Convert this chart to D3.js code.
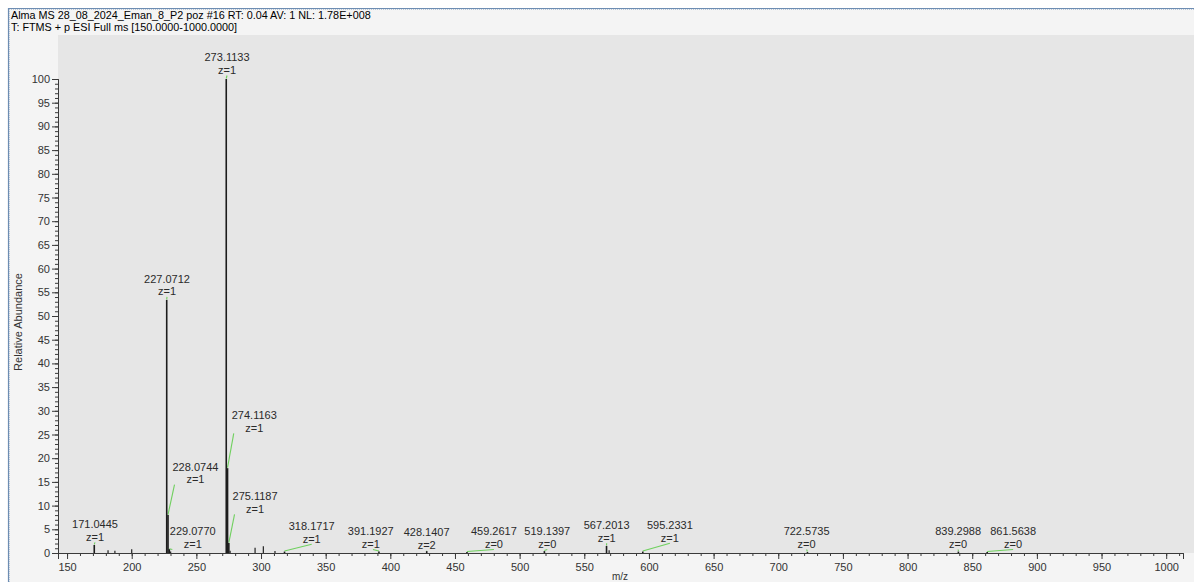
<!DOCTYPE html>
<html>
<head>
<meta charset="utf-8">
<script src="https://cdn.jsdelivr.net/npm/d3@7"></script>
<style>
  html, body { margin: 0; padding: 0; background: #ffffff; }
  svg { display: block; font-family: "Liberation Sans", Arial, sans-serif; }
</style>
</head>
<body>
<svg id="chart" width="1194" height="582"></svg>
<script>
// ---------- data ----------
const headerLines = [
  "Alma MS 28_08_2024_Eman_8_P2 poz #16 RT: 0.04 AV: 1 NL: 1.78E+008",
  "T: FTMS + p ESI Full ms [150.0000-1000.0000]"
];
const peakMz      = [171.0445, 227.0712, 228.0744, 229.0770, 273.1133, 274.1163, 275.1187, 318.1717, 391.1927, 428.1407, 459.2617, 519.1397, 567.2013, 595.2331, 722.5735, 839.2988, 861.5638];
const peakAbund   = [1.7, 53.4, 8.0, 0.8, 100, 17.9, 2.1, 0.3, 0.3, 0.4, 0.2, 0.4, 1.5, 0.3, 0.2, 0.3, 0.2];
const peakCharge  = [1, 1, 1, 1, 1, 1, 1, 1, 1, 2, 0, 0, 1, 1, 0, 0, 0];
// label anchor (centre of the "z=" line) in data units
const labelMz     = [171.6, 227.3, 249.3, 247.2, 273.7, 294.8, 295.4, 339.2, 384.9, 428.1, 480.1, 521.4, 567.3, 616.2, 721.9, 839.1, 881.6];
const labelAbund  = [3.4, 55.2, 15.6, 1.9, 101.9, 26.4, 9.3, 3.0, 1.9, 1.7, 1.9, 1.9, 3.2, 3.2, 1.9, 1.9, 1.9];
// small unlabelled peaks
const noiseMz     = [181.7, 187.0, 200.0, 230.1, 276.1, 295.4, 301.8, 310.8, 569.2];
const noiseAbund  = [0.6, 0.5, 0.8, 0.3, 0.5, 1.1, 1.4, 0.4, 0.6];
const xTickMajor  = [150, 200, 250, 300, 350, 400, 450, 500, 550, 600, 650, 700, 750, 800, 850, 900, 950, 1000];
const yTickMajor  = [0, 5, 10, 15, 20, 25, 30, 35, 40, 45, 50, 55, 60, 65, 70, 75, 80, 85, 90, 95, 100];
const xDomain     = [143, 1013];
const yDomain     = [0, 100];
const xTitle = "m/z";
const yTitle = "Relative Abundance";

// ---------- layout ----------
const W = 1194, H = 582;
const plotL = 58, plotR = 1183, plotT = 79, plotB = 553;
const svg = d3.select("#chart");

const x = d3.scaleLinear().domain(xDomain).range([plotL, plotR]);
const y = d3.scaleLinear().domain(yDomain).range([plotB, plotT]);

// backgrounds
svg.append("rect").attr("x", 0).attr("y", 0).attr("width", W).attr("height", H).attr("fill", "#ffffff");
svg.append("rect").attr("x", 8).attr("y", 8).attr("width", W - 8).attr("height", H - 8).attr("fill", "#f4f4f4");
svg.append("rect").attr("x", plotL).attr("y", 35).attr("width", W - plotL).attr("height", plotB - 35).attr("fill", "#e6e6e6");
// frame
svg.append("line").attr("x1", 8.5).attr("x2", 8.5).attr("y1", 8).attr("y2", H).attr("stroke", "#6d8db3").attr("stroke-width", 1.2);
svg.append("line").attr("x1", 8).attr("x2", W).attr("y1", 8.5).attr("y2", 8.5).attr("stroke", "#6d8db3").attr("stroke-width", 1.2);
svg.append("line").attr("x1", 9.5).attr("x2", 9.5).attr("y1", 9).attr("y2", H).attr("stroke", "#b9c7d8").attr("stroke-width", 1).attr("stroke-dasharray", "1,1");
svg.append("line").attr("x1", 9).attr("x2", W).attr("y1", 9.5).attr("y2", 9.5).attr("stroke", "#b9c7d8").attr("stroke-width", 1).attr("stroke-dasharray", "1,1");

// header
svg.selectAll("text.hdr").data(headerLines).enter().append("text")
  .attr("class", "hdr")
  .attr("x", 11).attr("y", (d, i) => 19 + i * 12)
  .attr("font-size", 10.8).attr("fill", "#000")
  .text(d => d);

// ---------- axes ----------
const axisColor = "#3a3a3a";
const xMinor = d3.range(150, 1011, 10);
const yMinor = d3.range(0, 101, 1);

const xAxisMinor = d3.axisBottom(x).tickValues(xMinor).tickSize(3).tickFormat("");
const xAxisMajor = d3.axisBottom(x).tickValues(xTickMajor).tickSize(6).tickPadding(4).tickFormat(d3.format("d"));
const gxm = svg.append("g").attr("transform", `translate(0,${plotB})`).call(xAxisMinor);
const gx = svg.append("g").attr("transform", `translate(0,${plotB})`).call(xAxisMajor);
[gxm, gx].forEach(g => {
  g.select(".domain").attr("stroke", axisColor);
  g.selectAll(".tick line").attr("stroke", axisColor);
});
gx.selectAll("text").attr("font-size", 11).attr("fill", "#333")
  .attr("font-family", "'Liberation Sans', Arial, sans-serif");

const yAxisMinor = d3.axisLeft(y).tickValues(yMinor).tickSize(3).tickFormat("");
const yAxisMajor = d3.axisLeft(y).tickValues(yTickMajor).tickSize(6).tickPadding(2).tickFormat(d3.format("d"));
const gym = svg.append("g").attr("transform", `translate(${plotL},0)`).call(yAxisMinor);
const gy = svg.append("g").attr("transform", `translate(${plotL},0)`).call(yAxisMajor);
[gym, gy].forEach(g => {
  g.select(".domain").attr("stroke", axisColor);
  g.selectAll(".tick line").attr("stroke", axisColor);
});
gy.selectAll("text").attr("font-size", 11).attr("fill", "#333")
  .attr("font-family", "'Liberation Sans', Arial, sans-serif");

// titles
svg.append("text").attr("x", 620).attr("y", 580).attr("text-anchor", "middle")
  .attr("font-size", 10).attr("fill", "#333").text(xTitle);
svg.append("text").attr("transform", `translate(22,${(plotT + plotB) / 2 + 6}) rotate(-90)`)
  .attr("text-anchor", "middle").attr("font-size", 11).attr("fill", "#333").text(yTitle);

// ---------- peaks ----------
const leadG = svg.append("g");
const noise = noiseMz.map((m, i) => ({ mz: m, ab: noiseAbund[i] }));
svg.append("g").selectAll("line").data(noise).enter().append("line")
  .attr("x1", d => x(d.mz)).attr("x2", d => x(d.mz))
  .attr("y1", y(0)).attr("y2", d => y(d.ab))
  .attr("stroke", "#222").attr("stroke-width", 1.2);

const peaks = peakMz.map((m, i) => ({
  mz: m, ab: peakAbund[i], z: peakCharge[i], lmz: labelMz[i], lab: labelAbund[i]
}));
svg.append("g").selectAll("line").data(peaks).enter().append("line")
  .attr("x1", d => x(d.mz)).attr("x2", d => x(d.mz))
  .attr("y1", y(0)).attr("y2", d => y(d.ab))
  .attr("stroke", "#1c1c1c").attr("stroke-width", 1.6);

// labels
const lblG = svg.append("g");
peaks.forEach(d => {
  const cx = x(d.lmz), zy = y(d.lab);
  const t1 = lblG.append("text").attr("x", cx).attr("y", zy - 12.5 + 4)
    .attr("text-anchor", "middle").attr("font-size", 11).attr("fill", "#2a2a2a")
    .text(d.mz.toFixed(4));
  lblG.append("text").attr("x", cx).attr("y", zy + 4)
    .attr("text-anchor", "middle").attr("font-size", 11).attr("fill", "#2a2a2a")
    .text("z=" + d.z);
  const w = t1.node().getComputedTextLength();
  const left = cx - w / 2, right = cx + w / 2;
  const bottom = zy + 5.5;
  const px = x(d.mz), py = y(d.ab);
  let endX;
  if (py - bottom > 15) endX = left + 2;
  else if (px >= left - 1 && px <= right + 1 && Math.abs(px - cx) > 6) endX = px + (cx > px ? 3 : -6);
  else endX = cx;
  leadG.append("line")
    .attr("x1", px).attr("y1", py - 0.5)
    .attr("x2", endX).attr("y2", bottom)
    .attr("stroke", "#6fd05e").attr("stroke-width", 1.1);
});
</script>
</body>
</html>
